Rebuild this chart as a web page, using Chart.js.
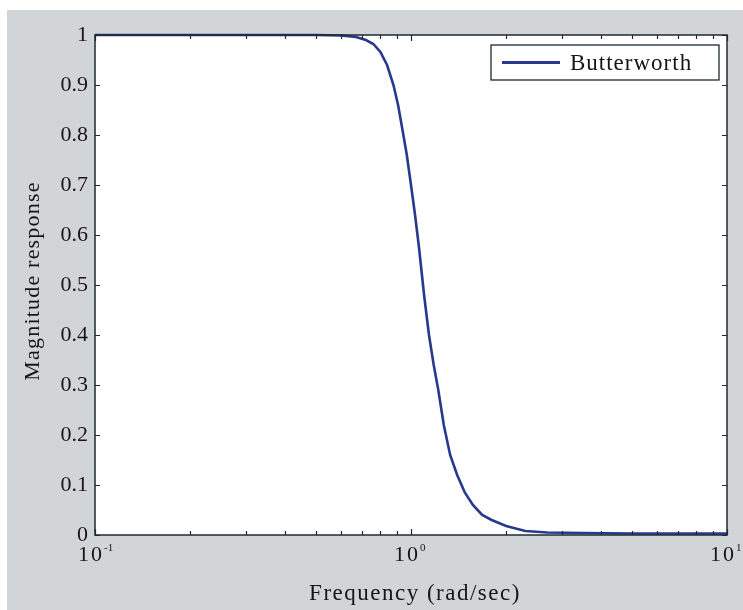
<!DOCTYPE html>
<html>
<head>
<meta charset="utf-8">
<script src="https://cdn.jsdelivr.net/npm/chart.js@4.4.0/dist/chart.umd.min.js"></script>
<style>
  html, body { margin: 0; padding: 0; background: #fff; }
  #wrap { width: 743px; height: 610px; }
</style>
</head>
<body>
<div id="wrap"><canvas id="chartCanvas" width="743" height="610"></canvas></div>
<script>
// values
const freq = [0.1, 0.2, 0.3, 0.4, 0.5, 0.6, 0.67, 0.72, 0.76, 0.80, 0.84, 0.88, 0.91, 0.94, 0.97, 1.00,
  1.03, 1.06, 1.10, 1.14, 1.18, 1.22, 1.27, 1.33, 1.40, 1.48, 1.57, 1.68, 1.80, 2.0, 2.3, 2.7, 3.5, 5, 7, 10];
const magnitude = [1, 1, 1, 1, 1, 0.999, 0.996, 0.99, 0.982, 0.966, 0.94, 0.90, 0.86, 0.81, 0.76, 0.70,
  0.64, 0.575, 0.48, 0.40, 0.34, 0.29, 0.22, 0.16, 0.12, 0.085, 0.06, 0.04, 0.03, 0.018, 0.008, 0.005, 0.004, 0.003, 0.003, 0.003];
const seriesName = "Butterworth";
const yTicks = [0, 0.1, 0.2, 0.3, 0.4, 0.5, 0.6, 0.7, 0.8, 0.9, 1];
const xMajor = [0.1, 1, 10];
const xMajorLabels = [["10", "-1"], ["10", "0"], ["10", "1"]];
const xMinor = [0.2, 0.3, 0.4, 0.5, 0.6, 0.7, 0.8, 0.9, 2, 3, 4, 5, 6, 7, 8, 9];
const xTitle = "Frequency (rad/sec)";
const yTitle = "Magnitude response";

const SERIF = "'Liberation Serif', 'DejaVu Serif', serif";
const LINE = "#27398c";
const FRAME = "#1d2a32";
const TEXT = "#151515";

const matlabLook = {
  id: "matlabLook",
  beforeDraw(chart) {
    const ctx = chart.ctx;
    const a = chart.chartArea;
    ctx.save();
    ctx.fillStyle = "#d2d5d8";
    ctx.fillRect(7, 10, chart.width - 7, chart.height - 10);
    ctx.fillStyle = "#fff";
    ctx.fillRect(a.left, a.top, a.right - a.left, a.bottom - a.top);
    ctx.restore();
  },
  afterDatasetsDraw(chart) {
    const ctx = chart.ctx;
    const a = chart.chartArea;
    const xs = chart.scales.x, ys = chart.scales.y;
    ctx.save();
    ctx.strokeStyle = FRAME;
    ctx.lineWidth = 1.5;
    ctx.strokeRect(a.left, a.top, a.right - a.left, a.bottom - a.top);

    // inward ticks
    ctx.lineWidth = 1.2;
    ctx.beginPath();
    xMinor.concat(xMajor).forEach(v => {
      const px = Math.round(xs.getPixelForValue(v)) + 0.5;
      const len = xMajor.includes(v) ? 6 : 4;
      ctx.moveTo(px, a.bottom); ctx.lineTo(px, a.bottom - len);
      ctx.moveTo(px, a.top); ctx.lineTo(px, a.top + len);
    });
    yTicks.forEach(v => {
      const py = Math.round(ys.getPixelForValue(v)) + 0.5;
      ctx.moveTo(a.left, py); ctx.lineTo(a.left + 5, py);
      ctx.moveTo(a.right, py); ctx.lineTo(a.right - 5, py);
    });
    ctx.stroke();

    // x tick labels with exponents
    ctx.fillStyle = TEXT;
    ctx.textBaseline = "alphabetic";
    xMajor.forEach((v, i) => {
      const px = xs.getPixelForValue(v);
      const [base, exp] = xMajorLabels[i];
      ctx.font = "22px " + SERIF;
      ctx.letterSpacing = "2px";
      const bw = ctx.measureText(base).width;
      ctx.textAlign = "left";
      ctx.fillText(base, px - bw / 2 - 4, 561);
      ctx.font = "11px " + SERIF;
      ctx.letterSpacing = "0px";
      ctx.fillText(exp, px + bw / 2 - 4, 551);
    });

    // axis titles
    ctx.textAlign = "center";
    ctx.textBaseline = "alphabetic";
    ctx.font = "23px " + SERIF;
    ctx.letterSpacing = "1.5px";
    ctx.fillText(xTitle, (a.left + a.right) / 2 + 4, 600);
    ctx.save();
    ctx.font = "22px " + SERIF;
    ctx.letterSpacing = "1.2px";
    ctx.translate(39, 281);
    ctx.rotate(-Math.PI / 2);
    ctx.fillText(yTitle, 0, 0);
    ctx.restore();

    // legend box
    const lx = 491, ly = 45, lw = 228, lh = 35;
    ctx.fillStyle = "#fff";
    ctx.fillRect(lx, ly, lw, lh);
    ctx.strokeStyle = FRAME;
    ctx.lineWidth = 1.3;
    ctx.strokeRect(lx, ly, lw, lh);
    ctx.strokeStyle = LINE;
    ctx.lineWidth = 3;
    ctx.beginPath();
    ctx.moveTo(502, ly + lh / 2); ctx.lineTo(560, ly + lh / 2);
    ctx.stroke();
    ctx.fillStyle = TEXT;
    ctx.textAlign = "left";
    ctx.textBaseline = "middle";
    ctx.font = "23px " + SERIF;
    ctx.letterSpacing = "1px";
    ctx.fillText(seriesName, 570, ly + lh / 2 + 1);
    ctx.restore();
  }
};

new Chart(document.getElementById("chartCanvas").getContext("2d"), {
  type: "scatter",
  data: {
    datasets: [{
      label: seriesName,
      data: freq.map((f, i) => ({ x: f, y: magnitude[i] })),
      showLine: true,
      borderColor: LINE,
      borderWidth: 2.6,
      pointRadius: 0,
      tension: 0,
      clip: 4
    }]
  },
  options: {
    responsive: false,
    animation: false,
    devicePixelRatio: 1,
    layout: { padding: { left: 0, top: 35, right: 16, bottom: 0 } },
    plugins: { legend: { display: false }, tooltip: { enabled: false } },
    scales: {
      x: {
        type: "logarithmic",
        min: 0.1,
        max: 10,
        grid: { display: false },
        border: { display: false },
        ticks: { display: false },
        afterFit: s => { s.height = 75; }
      },
      y: {
        min: 0,
        max: 1,
        grid: { display: false, drawTicks: false },
        border: { display: false },
        afterBuildTicks: s => { s.ticks = yTicks.map(v => ({ value: v })); },
        ticks: {
          padding: 7,
          color: TEXT,
          font: { family: SERIF, size: 22 },
          callback: v => (v === 0 || v === 1) ? String(v) : v.toFixed(1)
        },
        afterFit: s => { s.width = 95; }
      }
    }
  },
  plugins: [matlabLook]
});
</script>
</body>
</html>
